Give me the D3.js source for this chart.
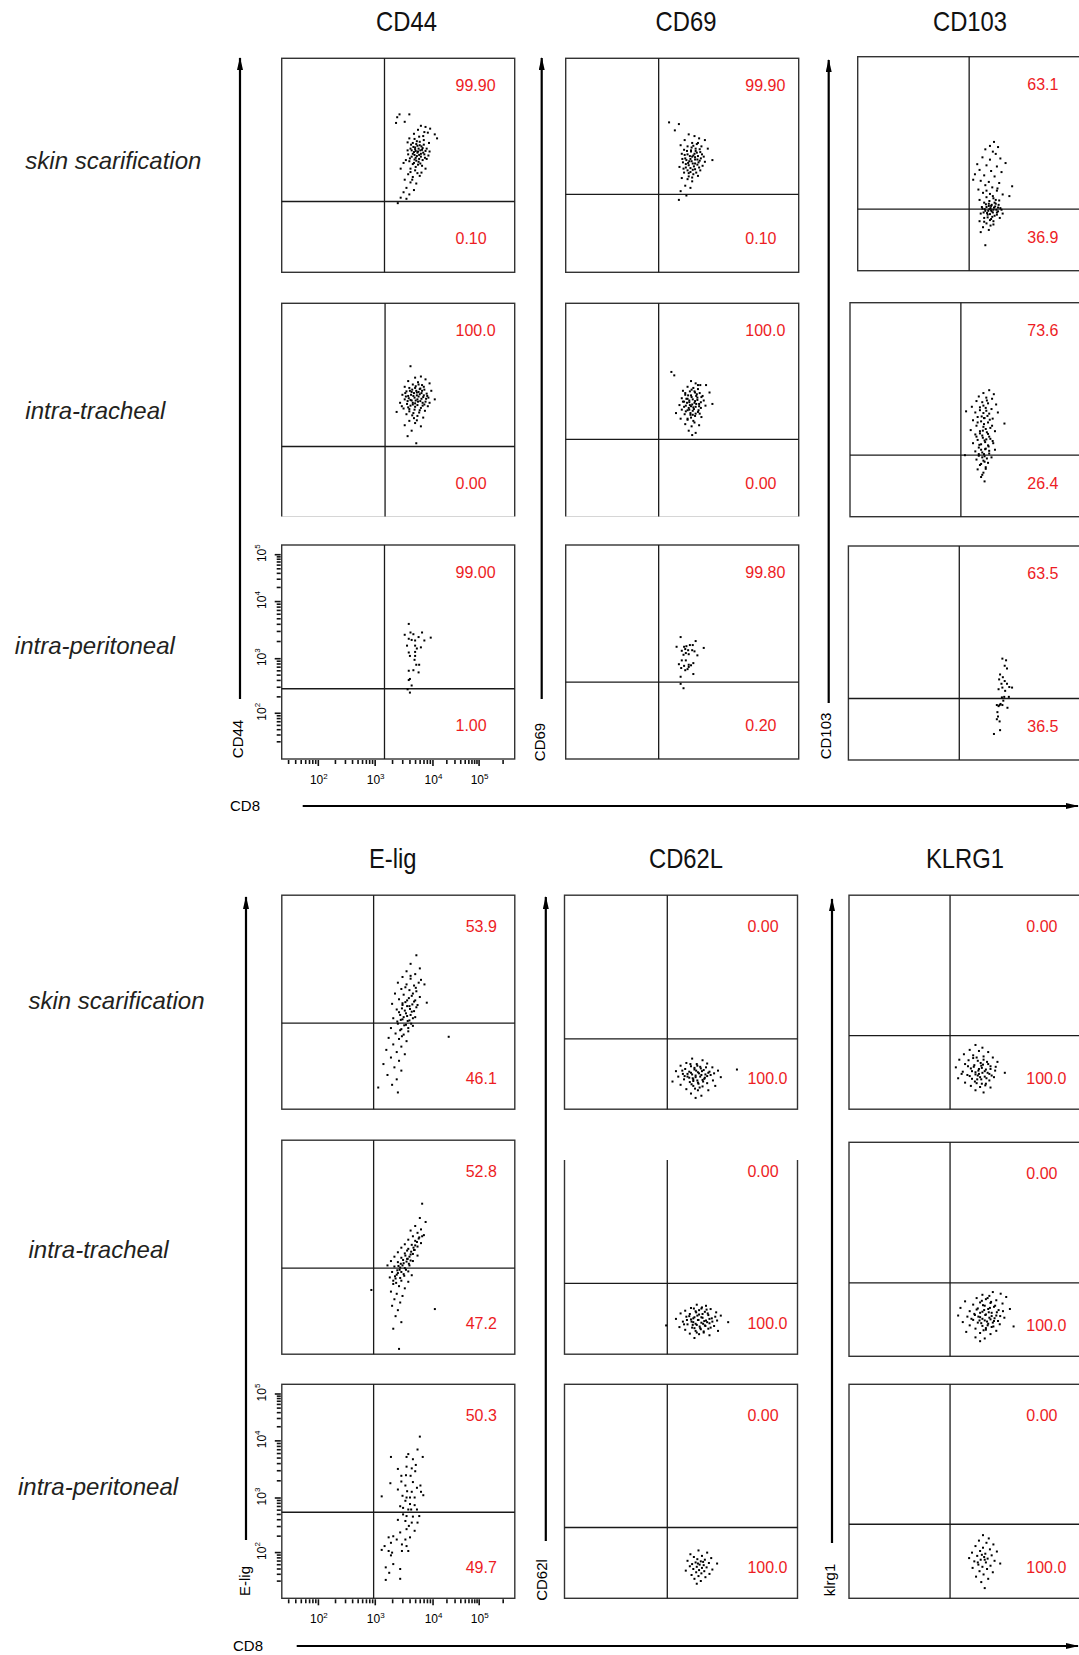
<!DOCTYPE html>
<html>
<head>
<meta charset="utf-8">
<script src="https://cdn.jsdelivr.net/npm/d3@7"></script>
<style>
body { margin: 0; background: #fff; }
svg { display: block; font-family: "Liberation Sans", Arial, sans-serif; }
</style>
</head>
<body>
<div id="chart"></div>
<script>
// ---------- data ----------
const markers = ['CD44', 'CD69', 'CD103', 'E-lig', 'CD62L', 'KLRG1'];
const markerAxisNames = ['CD44', 'CD69', 'CD103', 'E-lig', 'CD62l', 'klrg1'];
const routes = ['skin scarification', 'intra-tracheal', 'intra-peritoneal'];
const xChannel = 'CD8';
const decades = [2, 3, 4, 5];

// quadrant percentages per marker: [skin, tracheal, peritoneal]
const upperPct = [
	['99.90', '100.0', '99.00'],
	['99.90', '100.0', '99.80'],
	['63.1', '73.6', '63.5'],
	['53.9', '52.8', '50.3'],
	['0.00', '0.00', '0.00'],
	['0.00', '0.00', '0.00']
];
const lowerPct = [
	['0.10', '0.00', '1.00'],
	['0.10', '0.00', '0.20'],
	['36.9', '26.4', '36.5'],
	['46.1', '47.2', '49.7'],
	['100.0', '100.0', '100.0'],
	['100.0', '100.0', '100.0']
];

// gate positions, log10 units
const gateCD8 = [
	[3.17, 3.18, 3.17], [3.00, 3.00, 3.00], [3.32, 3.31, 3.31],
	[2.98, 2.98, 2.98], [3.17, 3.17, 3.17], [3.14, 3.14, 3.14]
];
const gateMarker = [
	[2.45, 2.45, 2.44], [2.58, 2.58, 2.56], [2.28, 2.28, 2.28],
	[2.73, 2.73, 2.73], [2.44, 2.45, 2.45], [2.50, 2.50, 2.51]
];

// events: [log10 CD8, log10 marker]
const cd44Skin = [[3.39,3.95],[3.43,4.00],[3.60,4.00],[3.37,3.85],[3.52,3.87],[3.80,3.80],[3.88,3.78],[3.75,3.73],[3.96,3.75],[4.05,3.65],[4.10,3.58],[3.92,3.68],[3.68,3.66],[3.84,3.62],[3.60,3.58],[3.66,3.50],[3.72,3.48],[3.78,3.52],[3.85,3.47],[3.70,3.42],[3.76,3.40],[3.82,3.38],[3.62,3.40],[3.90,3.40],[3.68,3.34],[3.74,3.33],[3.80,3.31],[3.86,3.30],[3.95,3.35],[3.58,3.30],[3.64,3.26],[3.71,3.24],[3.77,3.22],[3.83,3.20],[3.90,3.22],[3.60,3.18],[3.68,3.15],[3.75,3.12],[3.82,3.10],[3.50,3.15],[3.45,3.05],[3.62,3.05],[3.70,3.02],[3.88,3.05],[3.58,2.95],[3.66,2.90],[3.78,2.92],[3.52,2.85],[3.62,2.80],[3.72,2.78],[3.55,2.70],[3.68,2.66],[3.50,2.62],[3.60,2.58],[3.45,2.52],[3.55,2.50],[3.40,2.42],
	[3.71,3.36],[3.77,3.29],[3.69,3.21],[3.81,3.44],[3.74,3.45],[3.66,3.31],[3.79,3.37],[3.73,3.27],[3.84,3.33],[3.63,3.47],[3.76,3.17],[3.70,3.39],[3.87,3.24],[3.67,3.43],[3.80,3.26],[3.72,3.19],[3.64,3.37],[3.78,3.46],[3.83,3.41],[3.69,3.29],[3.75,3.35],[3.61,3.23],[3.88,3.36],[3.73,3.53],[3.66,3.13],[3.79,3.14],[3.71,3.08],[3.85,3.55],[3.57,3.37],[3.93,3.28],[3.62,2.99],[3.74,2.97],[3.57,3.51],[3.69,3.57],[3.77,3.61],[3.86,3.69],[3.94,3.50],[3.54,3.20],[3.81,2.98],[3.65,2.85]];
const cd44Trach = [[3.62,3.88],[3.80,3.70],[3.70,3.68],[3.58,3.62],[3.88,3.65],[3.75,3.60],[3.66,3.56],[3.82,3.55],[3.95,3.58],[3.52,3.52],[3.60,3.50],[3.70,3.50],[3.78,3.48],[3.86,3.47],[3.98,3.45],[3.55,3.44],[3.64,3.43],[3.73,3.42],[3.81,3.41],[3.90,3.40],[3.48,3.38],[3.58,3.36],[3.67,3.36],[3.76,3.35],[3.84,3.34],[3.93,3.33],[4.05,3.30],[3.52,3.30],[3.62,3.29],[3.71,3.28],[3.79,3.27],[3.88,3.26],[3.44,3.24],[3.56,3.22],[3.66,3.21],[3.74,3.20],[3.83,3.19],[3.92,3.18],[3.50,3.14],[3.60,3.13],[3.69,3.12],[3.78,3.11],[3.87,3.10],[3.38,3.08],[3.55,3.04],[3.65,3.02],[3.74,3.01],[3.84,2.98],[3.60,2.92],[3.70,2.88],[3.52,2.84],[3.80,2.82],[3.64,2.74],[3.57,2.64],[3.72,2.51],
	[3.69,3.33],[3.75,3.26],[3.63,3.38],[3.81,3.31],[3.72,3.45],[3.66,3.24],[3.78,3.39],[3.59,3.32],[3.85,3.37],[3.70,3.17],[3.76,3.43],[3.62,3.19],[3.83,3.24],[3.68,3.41],[3.74,3.30],[3.57,3.27],[3.80,3.15],[3.71,3.53],[3.65,3.47],[3.89,3.31],[3.54,3.35],[3.77,3.07],[3.67,3.06],[3.61,3.45],[3.73,3.37],[3.86,3.21],[3.58,3.16],[3.79,3.49],[3.64,3.28],[3.70,3.23],[3.82,3.45],[3.53,3.41],[3.91,3.36],[3.68,2.97],[3.76,3.56],[3.60,3.09],[3.47,3.18],[3.95,3.24],[3.73,2.93],[3.85,3.52]];
const cd44Perit = [[3.59,3.60],[3.52,3.41],[3.62,3.45],[3.67,3.42],[3.82,3.45],[3.97,3.36],[3.76,3.37],[3.59,3.34],[3.64,3.32],[3.70,3.31],[3.86,3.31],[3.56,3.22],[3.70,3.22],[3.80,3.19],[3.73,3.17],[3.59,3.10],[3.70,3.11],[3.61,3.04],[3.70,3.04],[3.69,2.97],[3.72,2.88],[3.77,2.88],[3.59,2.77],[3.67,2.78],[3.76,2.74],[3.61,2.62],[3.59,2.60],[3.64,2.50],[3.57,2.43],[3.61,2.37]];
const cd69Skin = [[3.18,3.86],[3.35,3.83],[3.28,3.72],[3.52,3.65],[3.62,3.62],[3.70,3.58],[3.45,3.55],[3.80,3.55],[3.58,3.50],[3.66,3.48],[3.38,3.46],[3.50,3.44],[3.74,3.44],[3.85,3.40],[3.44,3.38],[3.56,3.37],[3.64,3.36],[3.72,3.34],[3.40,3.31],[3.50,3.30],[3.60,3.28],[3.68,3.27],[3.78,3.26],[3.46,3.23],[3.55,3.22],[3.63,3.21],[3.71,3.19],[3.93,3.20],[3.42,3.16],[3.51,3.15],[3.59,3.14],[3.67,3.12],[3.76,3.10],[3.36,3.08],[3.47,3.07],[3.55,3.06],[3.63,3.04],[3.72,3.02],[3.44,2.98],[3.52,2.97],[3.60,2.95],[3.68,2.92],[3.40,2.88],[3.50,2.86],[3.58,2.82],[3.46,2.74],[3.55,2.70],[3.38,2.64],[3.48,2.56],[3.35,2.48],
	[3.57,3.18],[3.63,3.25],[3.52,3.11],[3.66,3.33],[3.59,3.03],[3.54,3.27],[3.69,3.16],[3.48,3.20],[3.61,3.09],[3.56,3.35],[3.73,3.23],[3.50,3.02],[3.64,3.40],[3.58,3.26],[3.47,3.13],[3.70,3.07],[3.53,3.18],[3.62,3.31],[3.67,3.21],[3.55,2.99],[3.45,3.29],[3.60,3.45],[3.75,3.30],[3.49,3.36],[3.65,2.98],[3.57,3.42],[3.43,3.05],[3.71,3.39],[3.52,2.91],[3.63,3.14],[3.58,2.89],[3.80,3.17],[3.41,3.22],[3.68,3.50]];
const cd69Trach = [[3.22,3.78],[3.27,3.72],[3.56,3.62],[3.64,3.58],[3.72,3.55],[3.82,3.55],[3.50,3.52],[3.60,3.50],[3.68,3.48],[3.42,3.45],[3.54,3.44],[3.63,3.42],[3.71,3.41],[3.88,3.42],[3.46,3.38],[3.56,3.37],[3.65,3.36],[3.74,3.34],[3.40,3.32],[3.50,3.31],[3.59,3.30],[3.67,3.29],[3.78,3.28],[3.44,3.26],[3.53,3.25],[3.62,3.24],[3.70,3.22],[3.93,3.22],[3.36,3.20],[3.47,3.19],[3.56,3.18],[3.64,3.17],[3.73,3.15],[3.40,3.12],[3.50,3.11],[3.59,3.10],[3.68,3.08],[3.30,3.06],[3.45,3.04],[3.55,3.03],[3.63,3.01],[3.74,2.99],[3.38,2.96],[3.50,2.94],[3.60,2.92],[3.46,2.86],[3.57,2.82],[3.70,2.84],[3.52,2.74],[3.64,2.70],[3.58,2.66],
	[3.58,3.21],[3.63,3.27],[3.52,3.15],[3.67,3.33],[3.55,3.06],[3.61,3.13],[3.49,3.24],[3.70,3.18],[3.57,3.34],[3.64,3.05],[3.53,3.28],[3.47,3.09],[3.66,3.39],[3.60,3.16],[3.51,3.37],[3.73,3.25],[3.56,2.98],[3.44,3.17],[3.69,3.11],[3.62,3.44],[3.54,3.20],[3.76,3.36],[3.48,3.31],[3.59,3.03],[3.65,3.22],[3.42,3.26],[3.71,3.05],[3.57,3.47],[3.50,2.96],[3.81,3.19],[3.62,2.89],[3.46,3.41],[3.68,3.55],[3.53,3.12]];
const cd69Perit = [[3.38,3.37],[3.64,3.30],[3.31,3.20],[3.44,3.20],[3.48,3.21],[3.54,3.23],[3.59,3.23],[3.78,3.18],[3.46,3.16],[3.40,3.13],[3.51,3.14],[3.58,3.14],[3.62,3.12],[3.47,3.09],[3.52,3.07],[3.43,3.06],[3.67,3.05],[3.40,2.96],[3.47,2.96],[3.35,2.89],[3.52,2.88],[3.56,2.87],[3.60,2.91],[3.44,2.86],[3.39,2.82],[3.50,2.80],[3.46,2.78],[3.60,2.71],[3.38,2.66],[3.38,2.53],[3.43,2.45],[3.52,2.84]];
const cd103Skin = [[3.75,3.49],[3.68,3.42],[3.82,3.40],[3.60,3.36],[3.73,3.32],[3.78,3.28],[3.55,3.22],[3.86,3.20],[3.68,3.18],[3.95,3.12],[3.46,3.10],[3.62,3.08],[3.80,3.06],[3.50,3.00],[3.70,2.98],[3.88,2.96],[3.42,2.92],[3.58,2.90],[3.76,2.88],[3.39,2.82],[3.52,2.80],[3.66,2.78],[3.84,2.76],[4.08,2.70],[3.60,2.72],[3.72,2.68],[3.48,2.64],[3.80,2.62],[3.56,2.58],[3.68,2.56],[3.90,2.55],[4.02,2.52],[3.62,2.50],[3.74,2.48],[3.50,2.45],[3.84,2.44],[3.58,2.40],[3.66,2.38],[3.78,2.38],[3.70,2.34],[3.62,2.32],[3.82,2.31],[3.55,2.29],[3.67,2.28],[3.74,2.27],[3.88,2.27],[3.60,2.25],[3.71,2.24],[3.80,2.22],[3.52,2.20],[3.64,2.18],[3.76,2.16],[3.58,2.12],[3.70,2.10],[3.85,2.12],[3.50,2.06],[3.62,2.02],[3.74,2.00],[3.56,1.95],[3.66,1.90],[3.52,1.86],[3.60,1.62],
	[3.69,2.30],[3.73,2.22],[3.77,2.33],[3.65,2.25],[3.79,2.27],[3.71,2.36],[3.63,2.21],[3.82,2.24],[3.68,2.19],[3.75,2.31],[3.72,2.14],[3.66,2.34],[3.80,2.18],[3.59,2.28],[3.76,2.40],[3.70,2.26],[3.86,2.30],[3.64,2.13],[3.74,2.06],[3.61,2.37],[3.83,2.36],[3.68,2.08],[3.57,2.22],[3.78,2.45],[3.67,2.43],[3.73,2.52],[3.62,2.62],[3.81,2.66],[3.58,2.05],[3.69,1.98],[3.90,2.20],[3.54,2.32]];
const cd103Trach = [[3.80,3.45],[3.70,3.40],[3.88,3.38],[3.62,3.34],[3.75,3.32],[3.85,3.30],[3.58,3.26],[3.68,3.24],[3.78,3.22],[3.92,3.20],[3.50,3.16],[3.64,3.15],[3.74,3.14],[3.84,3.12],[3.40,3.08],[3.56,3.06],[3.70,3.05],[3.80,3.04],[3.95,3.06],[3.60,2.98],[3.72,2.96],[3.86,2.95],[3.52,2.92],[3.66,2.90],[3.78,2.88],[4.08,2.86],[3.58,2.82],[3.70,2.80],[3.82,2.78],[3.48,2.74],[3.64,2.72],[3.76,2.70],[3.90,2.72],[3.56,2.66],[3.68,2.64],[3.80,2.62],[3.60,2.56],[3.72,2.55],[3.86,2.54],[3.52,2.50],[3.66,2.48],[3.78,2.46],[3.62,2.42],[3.74,2.40],[3.90,2.38],[3.56,2.35],[3.68,2.33],[3.80,2.31],[3.38,2.28],[3.62,2.27],[3.72,2.26],[3.84,2.24],[3.58,2.20],[3.70,2.18],[3.78,2.14],[3.64,2.10],[3.74,2.06],[3.60,2.02],[3.70,1.96],[3.66,1.88],[3.72,1.80],
	[3.71,2.30],[3.76,2.22],[3.66,2.38],[3.73,2.52],[3.69,2.60],[3.79,2.44],[3.64,2.68],[3.74,2.76],[3.71,2.85],[3.81,2.93],[3.67,2.99],[3.75,3.09],[3.70,3.18],[3.78,2.67],[3.63,2.47],[3.72,2.16],[3.68,2.24],[3.82,2.58],[3.60,2.88],[3.77,3.00],[3.73,2.39],[3.66,2.12],[3.85,2.82],[3.69,2.73],[3.62,2.30],[3.75,2.57],[3.80,2.36],[3.71,2.96],[3.64,3.10],[3.76,3.27],[3.58,2.62],[3.87,2.50],[3.68,1.92],[3.74,2.03]];
const cd103Perit = [[4.07,3.01],[4.15,2.98],[4.12,2.88],[4.17,2.83],[4.02,2.72],[4.08,2.67],[4.00,2.63],[4.12,2.60],[4.05,2.55],[4.17,2.55],[4.22,2.49],[4.07,2.48],[4.28,2.48],[3.99,2.45],[4.13,2.42],[4.11,2.31],[4.21,2.31],[4.06,2.30],[4.09,2.24],[4.03,2.18],[3.96,2.16],[4.01,2.16],[4.07,2.16],[3.99,2.14],[4.18,2.11],[3.97,2.03],[3.98,1.95],[3.96,1.90],[4.01,1.86],[4.02,1.70],[3.91,1.63]];
const eligSkin = [[3.72,3.93],[3.62,3.78],[3.78,3.70],[3.55,3.65],[3.70,3.60],[3.48,3.55],[3.62,3.52],[3.80,3.50],[3.40,3.45],[3.55,3.42],[3.68,3.40],[3.86,3.42],[3.46,3.34],[3.60,3.32],[3.72,3.30],[3.35,3.26],[3.50,3.24],[3.64,3.22],[3.78,3.20],[3.42,3.16],[3.56,3.14],[3.68,3.12],[3.90,3.10],[3.30,3.08],[3.48,3.06],[3.60,3.04],[3.72,3.02],[3.38,2.98],[3.52,2.96],[3.64,2.94],[3.44,2.88],[3.56,2.86],[3.70,2.84],[3.32,2.82],[3.48,2.80],[3.60,2.78],[3.40,2.72],[3.54,2.70],[3.66,2.68],[3.28,2.64],[3.46,2.62],[3.58,2.58],[3.36,2.54],[3.50,2.52],[4.35,2.48],[3.24,2.46],[3.42,2.44],[3.55,2.40],[3.32,2.34],[3.46,2.30],[3.20,2.24],[3.38,2.20],[3.52,2.16],[3.28,2.10],[3.42,2.04],[3.15,1.98],[3.34,1.92],[3.46,1.86],[3.22,1.78],[3.38,1.70],[3.30,1.60],[3.06,1.55],[3.40,1.46],
	[3.54,2.91],[3.61,2.99],[3.50,2.84],[3.65,3.07],[3.57,2.77],[3.47,3.00],[3.62,2.88],[3.53,3.11],[3.68,2.95],[3.45,2.79],[3.59,3.18],[3.66,2.82],[3.51,2.69],[3.70,3.14],[3.56,3.04],[3.42,2.93],[3.63,2.72],[3.48,3.09],[3.74,3.06],[3.58,2.64],[3.66,3.26],[3.44,2.60],[3.53,3.37],[3.71,3.36],[3.39,2.76],[3.76,3.45],[3.47,2.49],[3.62,3.57]];
const eligTrach = [[3.82,3.87],[3.78,3.62],[3.88,3.55],[3.70,3.48],[3.80,3.42],[3.62,3.40],[3.74,3.36],[3.85,3.32],[3.66,3.30],[3.76,3.26],[3.58,3.24],[3.70,3.22],[3.80,3.18],[3.52,3.16],[3.64,3.15],[3.74,3.12],[3.46,3.10],[3.58,3.08],[3.68,3.06],[3.40,3.02],[3.52,3.00],[3.62,2.98],[3.74,2.96],[3.34,2.94],[3.46,2.92],[3.56,2.90],[3.66,2.86],[3.28,2.86],[3.40,2.84],[3.50,2.82],[3.60,2.78],[3.22,2.78],[3.34,2.76],[3.44,2.74],[3.54,2.70],[3.30,2.66],[3.40,2.64],[3.50,2.62],[3.64,2.60],[3.26,2.56],[3.36,2.54],[3.46,2.50],[3.58,2.48],[3.32,2.44],[3.42,2.40],[3.52,2.36],[2.94,2.33],[3.28,2.30],[3.38,2.26],[3.48,2.22],[3.34,2.16],[3.44,2.10],[3.30,2.04],[4.05,1.98],[3.40,1.96],[3.36,1.85],[3.46,1.74],[3.32,1.62],[3.42,1.25],
	[3.48,2.78],[3.55,2.85],[3.43,2.70],[3.60,2.94],[3.52,2.73],[3.38,2.61],[3.63,3.03],[3.57,2.90],[3.46,2.66],[3.67,3.10],[3.41,2.77],[3.53,2.96],[3.35,2.58],[3.70,3.14],[3.59,2.81],[3.49,2.88],[3.44,2.55],[3.66,2.99],[3.73,3.20],[3.32,2.50],[3.62,2.87],[3.51,2.59],[3.77,3.28],[3.39,2.69],[3.56,3.05],[3.45,2.81],[3.69,3.06],[3.37,2.46],[3.58,2.67],[3.82,3.30]];
const eligPerit = [[3.78,4.08],[3.74,3.84],[3.83,3.71],[3.58,3.76],[3.55,3.71],[3.28,3.71],[3.66,3.67],[3.71,3.57],[3.55,3.54],[3.40,3.50],[3.64,3.51],[3.70,3.46],[3.46,3.38],[3.54,3.39],[3.62,3.38],[3.46,3.28],[3.53,3.21],[3.66,3.27],[3.79,3.21],[3.27,3.25],[3.73,3.17],[3.40,3.14],[3.56,3.11],[3.64,3.10],[3.80,3.10],[3.84,3.04],[3.12,3.02],[3.48,3.03],[3.55,3.00],[3.61,3.00],[3.69,3.00],[3.53,2.94],[3.61,2.88],[3.69,2.86],[3.44,2.84],[3.49,2.81],[3.58,2.78],[3.63,2.78],[3.73,2.78],[3.49,2.69],[3.55,2.66],[3.66,2.65],[3.77,2.66],[3.40,2.59],[3.53,2.57],[3.64,2.54],[3.74,2.54],[3.59,2.48],[3.69,2.39],[3.55,2.42],[3.44,2.36],[3.32,2.29],[3.38,2.23],[3.53,2.23],[3.24,2.27],[3.61,2.27],[3.28,2.17],[3.47,2.14],[3.55,2.11],[3.17,2.11],[3.47,2.02],[3.58,2.02],[3.12,2.04],[3.24,2.02],[3.30,1.99],[3.28,1.94],[3.32,1.78],[3.19,1.72],[3.44,1.69],[3.25,1.62],[3.19,1.49],[3.44,1.51]];
const cd62lSkin = [[3.60,2.08],[3.78,2.05],[3.50,2.00],[3.68,1.98],[3.86,1.99],[3.40,1.95],[3.58,1.94],[3.74,1.93],[3.95,1.92],[3.48,1.89],[3.64,1.88],[3.80,1.87],[4.06,1.86],[3.32,1.85],[3.55,1.84],[3.70,1.83],[3.88,1.82],[3.44,1.80],[3.60,1.79],[3.76,1.78],[3.92,1.78],[4.47,1.88],[3.36,1.75],[3.52,1.75],[3.66,1.74],[3.82,1.73],[4.12,1.74],[3.46,1.70],[3.62,1.70],[3.78,1.69],[3.96,1.68],[3.26,1.66],[3.56,1.65],[3.70,1.64],[3.86,1.63],[3.40,1.60],[3.62,1.58],[3.78,1.57],[4.00,1.58],[3.50,1.52],[3.70,1.50],[3.88,1.50],[3.58,1.44],[3.76,1.40],[3.66,1.36],
	[3.66,1.77],[3.72,1.81],[3.61,1.72],[3.77,1.85],[3.69,1.68],[3.58,1.82],[3.74,1.75],[3.83,1.79],[3.64,1.91],[3.71,1.62],[3.55,1.73],[3.79,1.66],[3.67,1.86],[3.86,1.76],[3.62,1.67],[3.75,1.90],[3.52,1.80],[3.81,1.71],[3.69,1.95],[3.59,1.61],[3.73,1.55],[3.90,1.84],[3.47,1.76],[3.65,1.53],[3.84,1.92],[3.98,1.81],[3.43,1.86],[3.57,1.98]];
const cd62lTrach = [[3.68,2.06],[3.84,2.04],[3.58,2.00],[3.76,1.99],[3.92,1.98],[3.48,1.95],[3.66,1.94],[3.82,1.93],[4.02,1.92],[3.40,1.90],[3.56,1.89],[3.72,1.88],[3.88,1.87],[4.12,1.86],[3.50,1.84],[3.64,1.83],[3.78,1.82],[3.94,1.81],[3.32,1.80],[3.58,1.79],[3.70,1.78],[3.84,1.77],[4.04,1.77],[3.44,1.75],[3.62,1.74],[3.76,1.73],[3.90,1.72],[4.28,1.74],[3.15,1.68],[3.52,1.70],[3.68,1.69],[3.82,1.68],[3.98,1.67],[3.38,1.65],[3.60,1.64],[3.74,1.63],[3.88,1.62],[3.48,1.60],[3.66,1.58],[3.80,1.57],[4.06,1.58],[3.56,1.53],[3.72,1.52],[3.90,1.50],[3.64,1.45],
	[3.71,1.78],[3.76,1.83],[3.66,1.71],[3.81,1.76],[3.73,1.66],[3.62,1.81],[3.78,1.89],[3.86,1.74],[3.69,1.86],[3.75,1.61],[3.59,1.75],[3.83,1.67],[3.67,1.92],[3.90,1.80],[3.64,1.63],[3.79,1.71],[3.55,1.85],[3.87,1.90],[3.72,1.96],[3.61,1.69],[3.80,1.55],[3.95,1.75],[3.51,1.78],[3.68,1.55],[3.85,1.97],[4.00,1.84],[3.46,1.70],[3.63,1.99],[3.92,1.64],[3.77,2.01]];
const cd62lPerit = [[3.71,2.03],[3.86,1.99],[3.57,1.96],[3.77,1.93],[3.63,1.91],[3.93,1.89],[3.69,1.87],[3.82,1.86],[3.52,1.84],[3.75,1.83],[3.66,1.81],[3.89,1.80],[3.60,1.78],[3.73,1.77],[3.80,1.76],[4.04,1.79],[3.56,1.74],[3.68,1.73],[3.85,1.72],[3.77,1.71],[3.62,1.69],[3.72,1.67],[3.95,1.68],[3.49,1.66],[3.81,1.65],[3.67,1.63],[3.76,1.61],[3.90,1.60],[3.59,1.58],[3.71,1.56],[3.83,1.54],[3.64,1.51],[3.75,1.47],[3.68,1.42],[3.79,1.82],[3.70,1.79]];
const klrg1Skin = [[3.58,2.33],[3.70,2.28],[3.48,2.24],[3.64,2.22],[3.80,2.20],[3.38,2.16],[3.54,2.14],[3.72,2.12],[3.88,2.10],[3.30,2.06],[3.46,2.05],[3.62,2.04],[3.78,2.02],[3.96,2.02],[3.40,1.98],[3.56,1.96],[3.68,1.95],[3.84,1.94],[3.24,1.92],[3.50,1.90],[3.64,1.89],[3.76,1.88],[3.92,1.86],[3.36,1.84],[3.58,1.83],[3.70,1.82],[3.82,1.80],[4.11,1.82],[3.44,1.78],[3.62,1.77],[3.74,1.75],[3.90,1.74],[3.28,1.72],[3.52,1.71],[3.68,1.70],[3.82,1.68],[3.40,1.64],[3.60,1.63],[3.76,1.62],[3.50,1.58],[3.66,1.56],[3.84,1.55],[3.58,1.50],[3.72,1.46],
	[3.63,1.86],[3.69,1.91],[3.58,1.79],[3.74,1.85],[3.66,1.74],[3.55,1.93],[3.71,1.97],[3.79,1.82],[3.61,1.70],[3.67,2.00],[3.52,1.85],[3.77,1.72],[3.64,1.80],[3.84,1.89],[3.57,1.66],[3.72,2.06],[3.48,1.76],[3.80,1.98],[3.60,2.10],[3.69,1.62],[3.86,1.77],[3.45,1.94],[3.75,1.59],[3.54,2.09],[3.93,1.93],[3.34,1.80]];
const klrg1Trach = [[3.88,2.33],[4.02,2.30],[3.70,2.28],[3.82,2.26],[4.14,2.24],[3.60,2.22],[3.76,2.20],[3.94,2.18],[3.40,2.16],[3.66,2.14],[3.84,2.13],[4.06,2.12],[3.54,2.10],[3.74,2.08],[3.90,2.06],[3.32,2.04],[3.62,2.03],[3.80,2.02],[3.98,2.00],[4.22,2.02],[3.48,1.98],[3.70,1.97],[3.86,1.95],[3.56,1.93],[3.76,1.92],[3.94,1.90],[3.28,1.90],[3.44,1.88],[3.66,1.87],[3.82,1.86],[4.10,1.86],[3.54,1.82],[3.74,1.81],[3.90,1.80],[3.36,1.78],[3.62,1.77],[3.80,1.75],[4.00,1.74],[3.48,1.72],[3.70,1.71],[3.86,1.69],[4.30,1.70],[3.58,1.66],[3.76,1.64],[3.94,1.62],[3.42,1.60],[3.66,1.58],[3.84,1.56],[3.58,1.50],[3.74,1.48],[3.66,1.43],
	[3.75,1.91],[3.81,1.96],[3.70,1.84],[3.86,1.89],[3.78,1.79],[3.66,1.95],[3.83,2.04],[3.91,1.85],[3.73,2.00],[3.79,1.72],[3.63,1.88],[3.88,1.77],[3.71,2.09],[3.95,1.96],[3.68,1.76],[3.84,1.83],[3.60,2.01],[3.92,2.08],[3.76,1.67],[3.65,1.81],[3.85,2.15],[4.01,1.89],[3.57,1.91],[3.72,1.63],[3.89,1.70],[4.07,1.98],[3.51,1.84],[3.69,2.17],[3.97,1.80],[3.79,2.22]];
const klrg1Perit = [[3.71,2.31],[3.81,2.25],[3.64,2.21],[3.77,2.17],[3.89,2.14],[3.58,2.11],[3.71,2.08],[3.83,2.05],[3.66,2.02],[3.95,2.01],[3.52,1.99],[3.75,1.97],[3.86,1.94],[3.61,1.93],[3.73,1.91],[3.47,1.89],[3.79,1.88],[3.67,1.86],[3.91,1.84],[3.56,1.83],[3.76,1.81],[4.01,1.79],[3.63,1.77],[3.84,1.75],[3.70,1.73],[3.53,1.71],[3.78,1.69],[3.65,1.65],[3.88,1.63],[3.72,1.59],[3.59,1.55],[3.80,1.51],[3.68,1.45],[3.74,1.34],[3.69,1.95],[3.74,1.86],[3.62,1.81]];

const events = [
	[cd44Skin, cd44Trach, cd44Perit],
	[cd69Skin, cd69Trach, cd69Perit],
	[cd103Skin, cd103Trach, cd103Perit],
	[eligSkin, eligTrach, eligPerit],
	[cd62lSkin, cd62lTrach, cd62lPerit],
	[klrg1Skin, klrg1Trach, klrg1Perit]
];

// ---------- layout ----------
const width = 1079;
const height = 1655;
const panelW = 233;
const panelH = 214;

const panelLeft = [
	[281.7, 281.7, 281.7], [565.7, 565.7, 565.7], [857.7, 850, 848.4],
	[281.8, 281.8, 281.8], [564.5, 564.5, 564.5], [849, 849, 849]
];
const panelTop = [
	[58.3, 303.3, 545], [58.3, 303.3, 545], [56.7, 302.7, 546],
	[895.2, 1140.2, 1384.3], [895.2, 1140.2, 1384.3], [895.2, 1142.3, 1384.3]
];
// parts of some panels were cropped away in the figure
const panelCut = { '0-1': { bottom: 516.5 }, '1-1': { bottom: 516.5 }, '4-1': { top: 1160 } };

const pctX = [455.5, 745.3, 1027.3, 465.7, 747.4, 1026.3];
const pctOffset = [[27, 180], [31, 183]];

// logicle-like display: decade knots -> fraction of the panel
const xKnots = [2, 3, 4, 5, 5.301];
const xFrac = [0.155, 0.399, 0.647, 0.845, 0.948];
const yFrac = [0.216, 0.471, 0.738, 0.957];

const titlePos = [[406.5, 31], [686, 31], [970, 31], [392.7, 868], [686, 868], [965, 868]];
const routePos = [
	[[25.3, 169], [25.3, 419], [14.8, 654]],
	[[28.5, 1009], [28.5, 1258], [18, 1495]]
];
const arrowX = [240, 541.7, 828.7, 246, 545.8, 832];
const arrowTip = [58, 58, 60, 897, 897, 899];
const arrowEnd = [699, 699, 703, 1540, 1541, 1543];
const axisNamePos = [[237.5, 739], [539.5, 742], [825.7, 736], [245, 1581], [541.6, 1580], [829.8, 1580]];
const cd8Arrow = [{ y: 806, x0: 302.7, label: 230 }, { y: 1646, x0: 296.7, label: 233 }];

const red = '#ed1c24';

const svg = d3.select('#chart')
	.append('svg')
	.attr('width', width)
	.attr('height', height);

const defs = svg.append('defs');
defs.append('marker')
	.attr('id', 'arrowHead')
	.attr('viewBox', '0 0 13 6')
	.attr('refX', 12)
	.attr('refY', 3)
	.attr('markerWidth', 13)
	.attr('markerHeight', 6)
	.attr('markerUnits', 'userSpaceOnUse')
	.attr('orient', 'auto')
	.append('path')
	.attr('d', 'M0,0L13,3L0,6Z')
	.attr('fill', '#000');

const minorTicks = d3.range(1, 6).flatMap(n => d3.range(2, 10).map(k => n + Math.log10(k)));

function supLabel(sel) {
	sel.text(null);
	sel.append('tspan').text('10');
	sel.append('tspan').attr('dy', -5.5).style('font-size', '8px').text(d => d);
}

function drawAxes(x, y, left, top) {
	const bottom = top + panelH;
	const xMinor = minorTicks.filter(v => x(v) > left + 3 && x(v) < left + panelW - 3);
	const yMinor = minorTicks.filter(v => y(v) < bottom - 12 && y(v) > top + 3);

	const ax = svg.append('g').attr('transform', `translate(0,${bottom + 1})`);
	ax.append('g').call(d3.axisBottom(x).tickValues(xMinor).tickSize(4).tickFormat(''));
	ax.append('g').call(d3.axisBottom(x).tickValues(decades).tickSize(6).tickFormat(''));
	ax.selectAll('.domain').remove();
	ax.selectAll('line').attr('stroke', '#111').attr('stroke-width', 1.6);
	ax.append('g').selectAll('text')
		.data(decades)
		.join('text')
		.attr('x', d => x(d) + 1)
		.attr('y', 24)
		.attr('text-anchor', 'middle')
		.style('font-size', '12px')
		.call(supLabel);

	const ay = svg.append('g').attr('transform', `translate(${left - 1},0)`);
	ay.append('g').call(d3.axisLeft(y).tickValues(yMinor).tickSize(4).tickFormat(''));
	ay.append('g').call(d3.axisLeft(y).tickValues(decades).tickSize(6).tickFormat(''));
	ay.selectAll('.domain').remove();
	ay.selectAll('line').attr('stroke', '#111').attr('stroke-width', 1.6);
	ay.append('g').selectAll('text')
		.data(decades)
		.join('text')
		.attr('transform', d => `translate(-15,${y(d) - 1}) rotate(-90)`)
		.attr('text-anchor', 'middle')
		.style('font-size', '12px')
		.call(supLabel);
}

markers.forEach((marker, i) => {
	const block = i < 3 ? 0 : 1;

	// column title
	svg.append('text')
		.attr('transform', `translate(${titlePos[i][0]},${titlePos[i][1]}) scale(0.85,1)`)
		.attr('text-anchor', 'middle')
		.style('font-size', '28px')
		.attr('fill', '#111')
		.text(marker);

	// marker axis arrow and name
	svg.append('line')
		.attr('x1', arrowX[i]).attr('x2', arrowX[i])
		.attr('y1', arrowEnd[i]).attr('y2', arrowTip[i])
		.attr('stroke', '#000')
		.attr('stroke-width', 2.2)
		.attr('marker-end', 'url(#arrowHead)');

	svg.append('text')
		.attr('transform', `translate(${axisNamePos[i][0]},${axisNamePos[i][1]}) rotate(-90)`)
		.attr('text-anchor', 'middle')
		.attr('dy', '0.35em')
		.style('font-size', '15px')
		.text(markerAxisNames[i]);

	routes.forEach((route, j) => {
		const left = panelLeft[i][j];
		const top = panelTop[i][j];
		const bottom = top + panelH;

		const x = d3.scaleLinear()
			.domain(xKnots)
			.range(xFrac.map(f => left + f * panelW));
		const y = d3.scaleLinear()
			.domain(decades)
			.range(yFrac.map(f => bottom - f * panelH));

		const cut = panelCut[`${i}-${j}`] || {};
		const clipTop = cut.top !== undefined ? cut.top : top - 2;
		const clipBottom = cut.bottom !== undefined ? cut.bottom : bottom + 2;

		defs.append('clipPath')
			.attr('id', `clip-${i}-${j}`)
			.append('rect')
			.attr('x', left - 2)
			.attr('y', clipTop)
			.attr('width', panelW + 4)
			.attr('height', clipBottom - clipTop);

		const g = svg.append('g').attr('clip-path', `url(#clip-${i}-${j})`);

		g.append('rect')
			.attr('x', left)
			.attr('y', top)
			.attr('width', panelW)
			.attr('height', panelH)
			.attr('fill', 'none')
			.attr('stroke', '#333')
			.attr('stroke-width', 1.4);

		g.append('line')
			.attr('x1', x(gateCD8[i][j])).attr('x2', x(gateCD8[i][j]))
			.attr('y1', top).attr('y2', bottom)
			.attr('stroke', '#1a1a1a')
			.attr('stroke-width', 1.3);

		g.append('line')
			.attr('x1', left).attr('x2', left + panelW)
			.attr('y1', y(gateMarker[i][j])).attr('y2', y(gateMarker[i][j]))
			.attr('stroke', '#1a1a1a')
			.attr('stroke-width', 1.3);

		g.selectAll('rect.event')
			.data(events[i][j])
			.join('rect')
			.attr('class', 'event')
			.attr('x', d => x(d[0]) - 1)
			.attr('y', d => y(d[1]) - 1)
			.attr('width', 2)
			.attr('height', 2)
			.attr('fill', '#000');

		svg.append('text')
			.attr('x', pctX[i])
			.attr('y', top + pctOffset[block][0] + 6)
			.attr('fill', red)
			.style('font-size', '16px')
			.text(upperPct[i][j]);

		svg.append('text')
			.attr('x', pctX[i])
			.attr('y', top + pctOffset[block][1] + 6)
			.attr('fill', red)
			.style('font-size', '16px')
			.text(lowerPct[i][j]);

		if (j === 2 && (i === 0 || i === 3)) drawAxes(x, y, left, top);
	});
});

// route labels
routePos.forEach(rows => {
	rows.forEach((p, j) => {
		svg.append('text')
			.attr('x', p[0])
			.attr('y', p[1])
			.attr('fill', '#231f20')
			.style('font-size', '24px')
			.style('font-style', 'italic')
			.text(routes[j]);
	});
});

// CD8 axis arrows
cd8Arrow.forEach(a => {
	svg.append('line')
		.attr('x1', a.x0).attr('x2', width - 1)
		.attr('y1', a.y).attr('y2', a.y)
		.attr('stroke', '#000')
		.attr('stroke-width', 2)
		.attr('marker-end', 'url(#arrowHead)');

	svg.append('text')
		.attr('x', a.label)
		.attr('y', a.y)
		.attr('dy', '0.35em')
		.style('font-size', '15px')
		.text(xChannel);
});
</script>
</body>
</html>
